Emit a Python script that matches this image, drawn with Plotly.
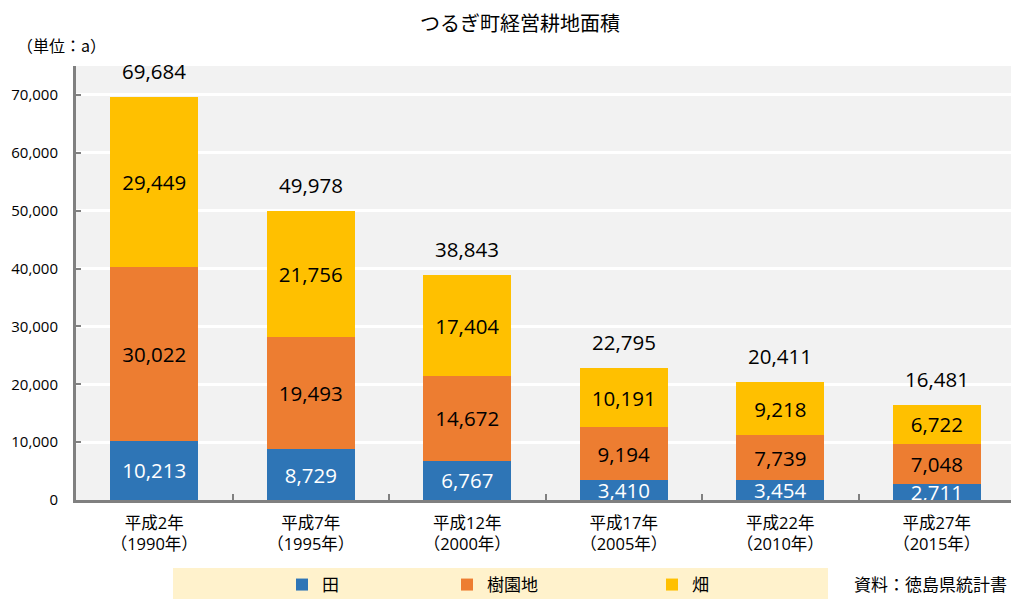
import plotly.graph_objects as go

categories = ["平成2年<br>（1990年）", "平成7年<br>（1995年）", "平成12年<br>（2000年）",
              "平成17年<br>（2005年）", "平成22年<br>（2010年）", "平成27年<br>（2015年）"]
ta = [10213, 8729, 6767, 3410, 3454, 2711]          # 田
juen = [30022, 19493, 14672, 9194, 7739, 7048]      # 樹園地
hata = [29449, 21756, 17404, 10191, 9218, 6722]     # 畑
totals = [69684, 49978, 38843, 22795, 20411, 16481]

CJK = "Noto Sans CJK JP, sans-serif"
NUM = "Open Sans, Noto Sans CJK JP, sans-serif"
FULLW = "<span style='text-spacing-trim:space-all'>{}</span>"

series = [
    ("田", ta, "#2e75b6", "white", "legend"),
    ("樹園地", juen, "#ed7d31", "black", "legend2"),
    ("畑", hata, "#ffc000", "black", "legend3"),
]

# page body has an 8px margin; figure is sized to fit the 1019x599 window
OFF = 8
W, H = 1019 - OFF, 599 - OFF


def cx(px):  # screen x -> container fraction
    return (px - OFF) / W


def cy(py):  # screen y -> container fraction (from bottom)
    return (H - (py - OFF)) / H


fig = go.Figure()
for name, vals, color, tcolor, lg in series:
    fig.add_trace(go.Bar(
        name=name, x=categories, y=vals, legend=lg,
        marker=dict(color=color, line=dict(width=0)),
        text=[f"{v:,}" for v in vals],
        textposition="inside", insidetextanchor="middle",
        constraintext="none",
        textfont=dict(color=tcolor, size=20.5, family=NUM),
        width=0.56,
    ))

for c, t in zip(categories, totals):
    fig.add_annotation(x=c, y=t, text=f"{t:,}", showarrow=False,
                       yanchor="bottom", yshift=10,
                       font=dict(size=20.5, color="black", family=NUM))

fig.add_annotation(xref="paper", yref="paper", x=(520 - 76) / 939, y=1, yshift=44,
                   xanchor="center", yanchor="middle",
                   text="つるぎ町経営耕地面積", showarrow=False,
                   font=dict(size=20, color="black", family=CJK))
fig.add_annotation(xref="paper", yref="paper", x=(15 - 76) / 939, y=1, yshift=21,
                   xanchor="left", yanchor="middle",
                   text=FULLW.format("（単位：a）"), showarrow=False,
                   font=dict(size=16, color="black", family=CJK))
fig.add_annotation(xref="paper", yref="paper", x=(1009 - 76) / 939, y=0, yshift=-83,
                   xanchor="right", yanchor="middle",
                   text="資料：徳島県統計書", showarrow=False,
                   font=dict(size=17, color="black", family=CJK))

# legend background band
fig.add_shape(type="rect", xref="paper", yref="paper",
              x0=(173 - 76) / 939, x1=(828 - 76) / 939,
              y0=-(599 - 500) / 434, y1=-(568 - 500) / 434,
              fillcolor="#fff2cc", line=dict(width=0), layer="below")

leg_common = dict(orientation="h", xref="container", yref="container",
                  xanchor="left", yanchor="middle",
                  bgcolor="rgba(0,0,0,0)", font=dict(size=17, family=CJK),
                  itemwidth=30)

fig.update_layout(
    width=W, height=H,
    barmode="stack",
    margin=dict(l=68, r=4, t=58, b=99, autoexpand=False),
    paper_bgcolor="white", plot_bgcolor="#f2f2f2",
    font=dict(family=NUM, size=15, color="black"),
    showlegend=True,
    legend=dict(x=cx(282), y=cy(585), **leg_common),
    legend2=dict(x=cx(447), y=cy(585), **leg_common),
    legend3=dict(x=cx(652), y=cy(585), **leg_common),
)
fig.update_yaxes(range=[0, 75000], tickvals=[0, 10000, 20000, 30000, 40000, 50000, 60000, 70000],
                 tickformat=",", showgrid=True, gridcolor="white", gridwidth=3,
                 showline=True, linecolor="#808080", linewidth=3,
                 ticks="inside", ticklen=5, tickcolor="#808080", tickwidth=2,
                 zeroline=False, tickfont=dict(size=15, family=NUM), ticklabelstandoff=12)
fig.update_xaxes(showline=True, linecolor="#808080", linewidth=3,
                 ticks="inside", tickson="boundaries", ticklen=6, tickcolor="#808080", tickwidth=2,
                 tickfont=dict(size=16.5, family=NUM), showgrid=False, ticklabelstandoff=6,
                 tickvals=categories,
                 ticktext=["<br>".join([p if i == 0 else FULLW.format(p) for i, p in enumerate(c.split("<br>"))])
                           for c in categories])

fig.write_html("out.html")
